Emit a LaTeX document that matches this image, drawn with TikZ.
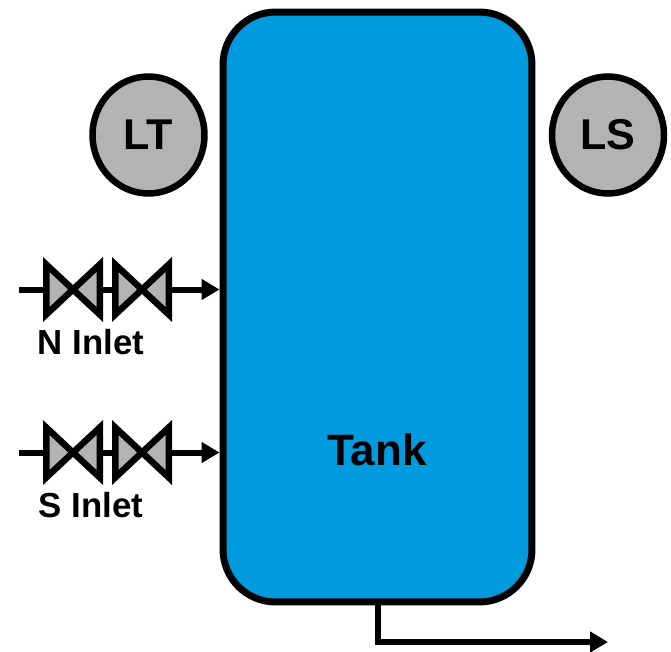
\documentclass[tikz,border=0pt]{standalone}
\usepackage{fontspec}
\setmainfont{Liberation Sans}
\usepackage{xcolor}
\usetikzlibrary{arrows.meta,positioning,shapes.geometric}
\definecolor{tankblue}{HTML}{009BDE}
\definecolor{instgray}{HTML}{B3B3B3}
\tikzset{
  tankbox/.style={draw=black,line width=7*0.02cm,fill=tankblue,rounded corners=1.05cm,minimum width=6.18cm,minimum height=11.8cm},
  instbubble/.style={ellipse,draw=black,line width=6.5*0.02cm,fill=instgray,minimum width=2.24cm,minimum height=2.34cm,inner sep=0pt,font=\fontsize{24.5}{28}\selectfont\bfseries},
  pipe/.style={line width=6*0.02cm},
  pipearrow/.style={pipe,-{Triangle[length=0.36cm,width=0.4cm]}},
  inletlabel/.style={font=\fontsize{19.8}{24}\selectfont\bfseries},
  valvebox/.style={inner sep=0pt,outer sep=0pt,minimum width=1.07cm,minimum height=1cm},
  pics/valve/.style={code={
    \node[valvebox] (-box) at (0,0) {};
    \draw[line width=6.5*0.02cm,fill=instgray,miter limit=10] (-26.75,-25) -- (0,0) -- (-26.75,25) -- cycle;
    \draw[line width=6.5*0.02cm,fill=instgray,miter limit=10] (26.75,-25) -- (0,0) -- (26.75,25) -- cycle;
  }}
}
\begin{document}
\begin{tikzpicture}[x=0.02cm,y=-0.02cm]
\useasboundingbox (0,0) rectangle (671,651);
\node[tankbox] (tank) at (377.5,307) {};
\node[font=\fontsize{25}{28}\selectfont\bfseries] (tanklabel) at (377,450) {Tank};
\node[instbubble] (lt) at (148.5,135) {LT};
\node[instbubble] (ls) at (608,135) {LS};
\foreach \inlet/\ypos/\inletname in {n/289.5/N Inlet,s/452.5/S Inlet} {
  \pic (\inlet valvea) at (73,\ypos) {valve};
  \pic (\inlet valveb) at (142,\ypos) {valve};
  \coordinate (\inlet feed) at (19,\ypos);
  \node[inletlabel] (\inlet label) at (91,\ypos+52.5) {\inletname};
  \draw[pipe] (\inlet feed) -- (\inlet valvea-box.west);
  \draw[pipe] (\inlet valvea-box.east) -- (\inlet valveb-box.west);
  \draw[pipearrow] (\inlet valveb-box.east) -- (\inlet valveb-box.east -| tank.west);
}
\coordinate (outlet) at (608,642);
\draw[pipearrow] (tank.south) |- (outlet);
\end{tikzpicture}
\end{document}
